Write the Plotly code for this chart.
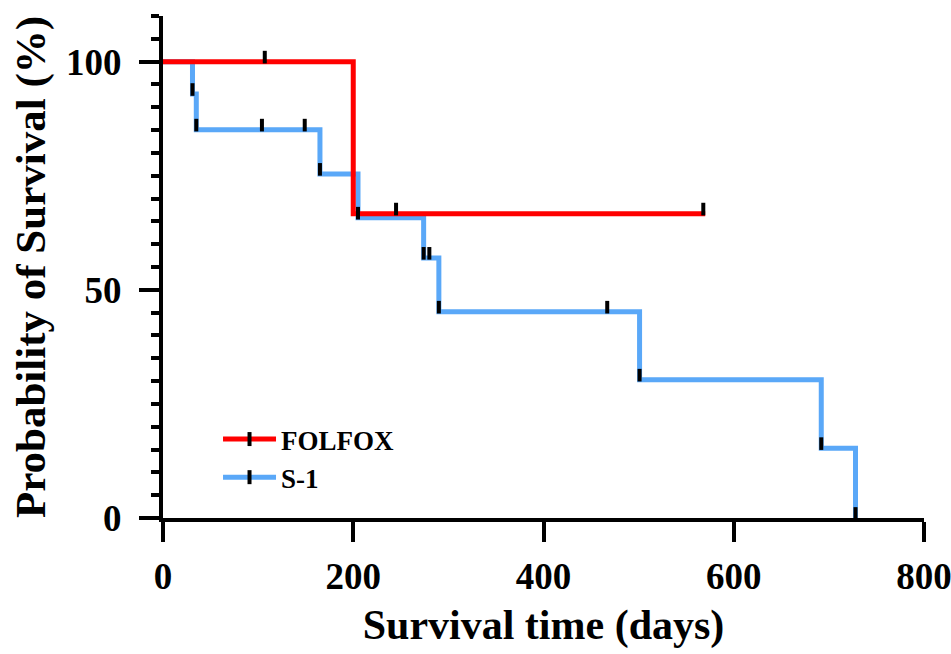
import plotly.graph_objects as go

# ---- data ----
folfox_time = [0, 200, 570]
folfox_surv = [100, 66.7, 66.7]
folfox_cens_time = [107, 245, 568]
folfox_cens_surv = [100, 66.7, 66.7]

s1_time = [0, 31, 35, 165, 205, 274, 290, 501, 692, 728]
s1_surv = [100, 92.9, 85.1, 75.4, 65.8, 57.0, 45.2, 30.3, 15.3, 0]
s1_cens_time = [31, 35, 104, 149, 165, 205, 274, 280, 290, 467, 501, 692, 728]
s1_cens_surv = [92.9, 85.1, 85.1, 85.1, 75.4, 65.8, 57.0, 57.0, 45.2, 45.2, 30.3, 15.3, 0]

series_names = ["FOLFOX", "S-1"]
x_ticks = [0, 200, 400, 600, 800]
y_ticks = [0, 50, 100]

RED = "#FF0000"
BLUE = "#5AA8F8"
FONT = "Liberation Serif"
mark_lift = 1.0  # censor ticks sit just above the line

fig = go.Figure()

fig.add_trace(go.Scatter(x=s1_time, y=s1_surv, mode="lines", line=dict(color=BLUE, width=5, shape="hv"),
                         showlegend=False, hoverinfo="skip"))
fig.add_trace(go.Scatter(x=folfox_time, y=folfox_surv, mode="lines", line=dict(color=RED, width=5, shape="hv"),
                         showlegend=False, hoverinfo="skip"))

for ct, cs in ((s1_cens_time, s1_cens_surv), (folfox_cens_time, folfox_cens_surv)):
    fig.add_trace(go.Scatter(x=ct, y=[v + mark_lift for v in cs], mode="markers",
                             marker=dict(symbol="line-ns", size=9, line=dict(color="black", width=4)),
                             showlegend=False, cliponaxis=False, hoverinfo="skip"))

# legend entries
for name, col in zip(series_names, [RED, BLUE]):
    fig.add_trace(go.Scatter(x=[None], y=[None], mode="lines+markers", name=name,
                             line=dict(color=col, width=5),
                             marker=dict(symbol="line-ns", size=10, color="black",
                                         line=dict(color="black", width=4))))

fig.update_layout(
    width=951, height=654,
    margin=dict(l=163, r=27, t=16, b=136),
    paper_bgcolor="white", plot_bgcolor="white",
    font=dict(family=FONT, color="black", weight="bold"),
    showlegend=True,
    legend=dict(x=0.0723, y=0.1185, xanchor="left", yanchor="middle", itemwidth=53,
                font=dict(family=FONT, size=27, color="black", weight="bold"),
                bgcolor="rgba(0,0,0,0)", tracegroupgap=0),
    xaxis=dict(range=[0, 800.01], tickvals=x_ticks, ticktext=[str(v) for v in x_ticks],
               automargin=False, ticklabeloverflow="allow",
               showgrid=False, zeroline=False, showline=True, linecolor="black", linewidth=4,
               ticks="outside", ticklen=20, tickwidth=4, tickcolor="black",
               tickfont=dict(family=FONT, size=37, color="black", weight="bold"),
               ticklabelstandoff=3,
               title=dict(text="Survival time (days)", standoff=14,
                          font=dict(family=FONT, size=42, color="black", weight="bold"))),
    yaxis=dict(range=[0, 110.01], tickvals=y_ticks, ticktext=[str(v) for v in y_ticks],
               automargin=False,
               showgrid=False, zeroline=False, showline=True, linecolor="black", linewidth=4,
               ticks="outside", ticklen=20, tickwidth=4, tickcolor="black",
               minor=dict(tick0=0, dtick=5, ticks="outside", ticklen=8, tickwidth=4, tickcolor="black",
                          showgrid=False),
               tickfont=dict(family=FONT, size=37, color="black", weight="bold"),
               ticklabelstandoff=10,
               title=dict(text="Probability of Survival (%)", standoff=8,
                          font=dict(family=FONT, size=43, color="black", weight="bold"))),
)

fig.write_html("out.html", config={"displayModeBar": False},
               post_script="document.body.style.margin='0';document.body.style.overflow='hidden';")
